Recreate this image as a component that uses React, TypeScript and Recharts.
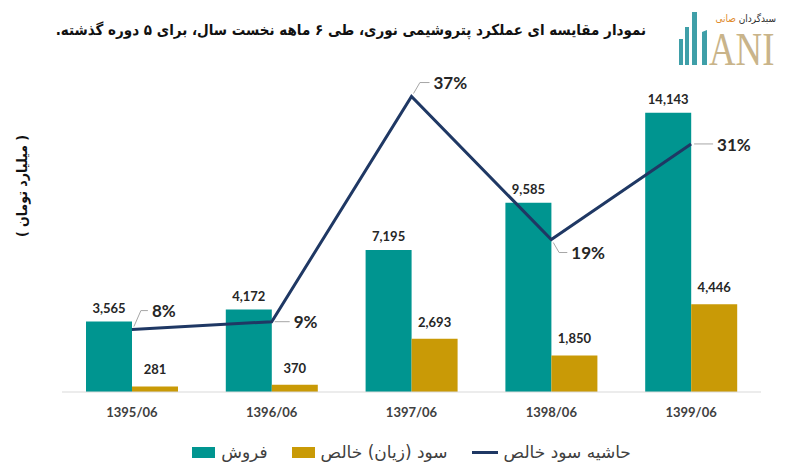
import React from "react";
import {
  ComposedChart,
  Bar,
  Line,
  XAxis,
  YAxis,
  LabelList,
  Legend,
} from "recharts";

const periods = ["1395/06", "1396/06", "1397/06", "1398/06", "1399/06"];
const sales = [3565, 4172, 7195, 9585, 14143];
const netProfit = [281, 370, 2693, 1850, 4446];
const margin = [7.9, 8.9, 37.4, 19.3, 31.4];

const TEAL = "#009590";
const GOLD = "#c99a06";
const NAVY = "#1f3864";
const TEXT = "#262626";
const LATIN = "Lato, 'Liberation Sans', sans-serif";
const PERSIAN = "'DejaVu Sans', sans-serif";
const PERSIAN_NARROW = "'DejaVu Sans Condensed', 'DejaVu Sans', sans-serif";

// label placement for the margin line, relative to each point
const marginLabelOffset = [
  { dx: 20, dy: -19 },
  { dx: 22, dy: 0 },
  { dx: 22, dy: -14 },
  { dx: 20, dy: 13 },
  { dx: 26, dy: 1 },
];

const data = periods.map((p, i) => ({
  period: p,
  sales: sales[i],
  profit: netProfit[i],
  margin: margin[i],
}));

const fmt = (v: number) => v.toLocaleString("en-US");

function MarginLabel(props: any) {
  const { x, y, value, index } = props;
  const o = marginLabelOffset[index] || { dx: 20, dy: 0 };
  const tx = x + o.dx;
  const ty = y + o.dy;
  // leader line: short diagonal, then horizontal into the text
  const bendX = x + Math.min(9, Math.abs(o.dy) * 0.6);
  const pts =
    Math.abs(o.dy) < 3
      ? `${x + 3},${y} ${tx - 4},${y}`
      : `${x + 2},${y + Math.sign(o.dy) * 3} ${bendX},${ty} ${tx - 4},${ty}`;
  return (
    <g>
      <polyline points={pts} fill="none" stroke="#a6a6a6" strokeWidth={1} />
      <text
        x={tx}
        y={ty}
        dominantBaseline="central"
        fontFamily={LATIN}
        fontWeight={700}
        fontSize={17}
        fill={TEXT}
      >
        {Math.round(value)}%
      </text>
    </g>
  );
}

function LegendContent() {
  const item = (icon: React.ReactNode, label: string) => (
    <span
      style={{ display: "inline-flex", alignItems: "center", margin: "0 12px" }}
    >
      {icon}
      <span style={{ marginLeft: 6, direction: "rtl" }}>{label}</span>
    </span>
  );
  return (
    <div
      style={{
        display: "flex",
        justifyContent: "center",
        fontFamily: PERSIAN,
        fontSize: 17,
        color: "#404040",
        paddingTop: 20,
      }}
    >
      {item(
        <span style={{ width: 23, height: 11, background: TEAL, display: "inline-block" }} />,
        "فروش"
      )}
      {item(
        <span style={{ width: 23, height: 11, background: GOLD, display: "inline-block" }} />,
        "سود (زیان) خالص"
      )}
      {item(
        <span style={{ width: 26, height: 3, background: NAVY, display: "inline-block" }} />,
        "حاشیه سود خالص"
      )}
    </div>
  );
}

function Logo() {
  return (
    <svg
      width={112}
      height={70}
      style={{ position: "absolute", left: 672, top: 4 }}
    >
      <rect x={7} y={35} width={4} height={26} fill="#3f9fa8" />
      <rect x={13} y={23} width={4} height={38} fill="#3f9fa8" />
      <rect x={20} y={8} width={5} height={53} fill="#3f9fa8" />
      <polygon points="30,28 35,26 35,61 30,61" fill="#3f9fa8" />
      <g transform="translate(37 61) scale(0.8 1)">
        <text x={0} y={0} fontFamily="'Liberation Serif', serif" fontSize={46} fill="#c9b48a">
          ANI
        </text>
      </g>
      <text
        x={104}
        y={18}
        textAnchor="end"
        fontFamily={PERSIAN_NARROW}
        fontSize={10}
        fill="#2d2d2d"
      >
        سبدگردان <tspan fill="#e08a2a">صانی</tspan>
      </text>
    </svg>
  );
}

export default function App() {
  return (
    <div
      style={{
        position: "absolute",
        left: 0,
        top: 0,
        width: 793,
        height: 472,
        background: "#fff",
        overflow: "hidden",
      }}
    >
      <div
        style={{
          position: "absolute",
          left: 30,
          width: 616,
          top: 21,
          direction: "rtl",
          textAlign: "right",
          fontFamily: PERSIAN_NARROW,
          fontWeight: 700,
          fontSize: 15,
          color: "#111",
          whiteSpace: "nowrap",
        }}
      >
        نمودار مقایسه ای عملکرد پتروشیمی نوری، طی ۶ ماهه نخست سال، برای ۵ دوره گذشته.
      </div>
      <Logo />
      <div
        style={{
          position: "absolute",
          left: 22,
          top: 186,
          transform: "translate(-50%, -50%) rotate(-90deg)",
          direction: "rtl",
          fontFamily: PERSIAN_NARROW,
          fontWeight: 700,
          fontSize: 14,
          color: "#111",
          whiteSpace: "nowrap",
        }}
      >
        ( میلیارد تومان )
      </div>
      <div style={{ position: "absolute", left: 0, top: 0 }}>
        <ComposedChart
          width={793}
          height={472}
          data={data}
          margin={{ top: 76, right: 32, left: 62, bottom: 0 }}
          barGap={0}
        >
          <XAxis
            dataKey="period"
            height={30}
            tickLine={false}
            axisLine={{ stroke: "#d9d9d9" }}
            tick={{ fontSize: 13, fontWeight: 700, fill: "#404040", fontFamily: LATIN }}
            tickMargin={10}
          />
          <YAxis yAxisId="left" hide domain={[0, 16000]} />
          <YAxis yAxisId="right" hide orientation="right" domain={[0, 40]} />
          <Legend verticalAlign="bottom" height={50} content={<LegendContent />} />
          <Bar
            yAxisId="left"
            dataKey="sales"
            name="فروش"
            fill={TEAL}
            barSize={46}
            isAnimationActive={false}
          >
            <LabelList
              dataKey="sales"
              position="top"
              offset={9}
              formatter={fmt}
              style={{ fontSize: 13, fontWeight: 700, fill: TEXT, fontFamily: LATIN }}
            />
          </Bar>
          <Bar
            yAxisId="left"
            dataKey="profit"
            name="سود (زیان) خالص"
            fill={GOLD}
            barSize={46}
            isAnimationActive={false}
          >
            <LabelList
              dataKey="profit"
              position="top"
              offset={12}
              formatter={fmt}
              style={{ fontSize: 13, fontWeight: 700, fill: TEXT, fontFamily: LATIN }}
            />
          </Bar>
          <Line
            yAxisId="right"
            dataKey="margin"
            name="حاشیه سود خالص"
            stroke={NAVY}
            strokeWidth={3}
            dot={false}
            type="linear"
            isAnimationActive={false}
          >
            <LabelList dataKey="margin" content={<MarginLabel />} />
          </Line>
        </ComposedChart>
      </div>
    </div>
  );
}
